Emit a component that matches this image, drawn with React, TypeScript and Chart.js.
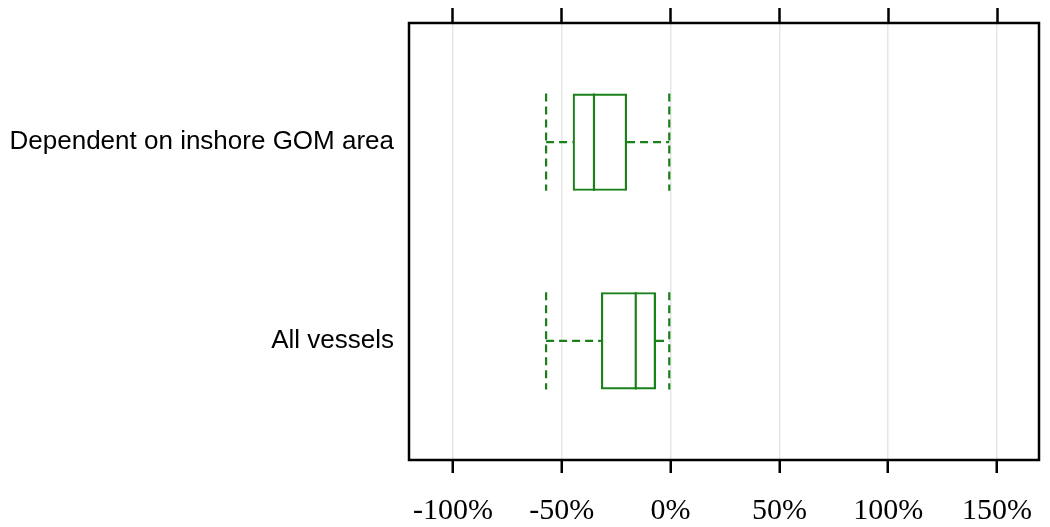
import { useEffect, useRef } from "react";
import { Chart, registerables } from "chart.js";

Chart.register(...registerables);

// ---- data ----
const CATEGORIES = ["All vessels", "Dependent on inshore GOM area"];
const CAT_POS = [1, 2];
const WHISKER_LOW = [-57.2, -57.2];
const Q1 = [-32.0, -45.0];
const MEDIAN = [-16.0, -35.2];
const Q3 = [-6.7, -20.0];
const WHISKER_HIGH = [-0.6, -0.6];
const X_TICKS = [-100, -50, 0, 50, 100, 150];
const X_MIN = -120.2;
const X_MAX = 169.3;

const GREEN = "#1a801a";

export default function App() {
  const ref = useRef<HTMLCanvasElement>(null);

  useEffect(() => {
    document.body.style.margin = "0";
    const canvas = ref.current;
    if (!canvas) return;

    const boxPlugin = {
      id: "boxExtras",
      afterDatasetsDraw(chart: any) {
        const ctx = chart.ctx;
        const xs = chart.scales.x;
        const meta = chart.getDatasetMeta(0);
        ctx.save();
        ctx.strokeStyle = GREEN;
        ctx.lineWidth = 2.2;
        meta.data.forEach((bar: any, i: number) => {
          const { y, height } = bar.getProps(["y", "height"], true);
          const top = y - height / 2;
          const bot = y + height / 2;
          const pLow = xs.getPixelForValue(WHISKER_LOW[i]);
          const pQ1 = xs.getPixelForValue(Q1[i]);
          const pMed = xs.getPixelForValue(MEDIAN[i]);
          const pQ3 = xs.getPixelForValue(Q3[i]);
          const pHigh = xs.getPixelForValue(WHISKER_HIGH[i]);
          // median
          ctx.setLineDash([]);
          ctx.beginPath();
          ctx.moveTo(pMed, top);
          ctx.lineTo(pMed, bot);
          ctx.stroke();
          // whiskers
          ctx.setLineDash([8, 5]);
          ctx.beginPath();
          ctx.moveTo(pLow, y);
          ctx.lineTo(pQ1, y);
          ctx.moveTo(pQ3, y);
          ctx.lineTo(pHigh, y);
          ctx.stroke();
          ctx.beginPath();
          ctx.moveTo(pLow, top);
          ctx.lineTo(pLow, bot);
          ctx.moveTo(pHigh, top);
          ctx.lineTo(pHigh, bot);
          ctx.stroke();
        });
        ctx.restore();
      },
      afterDraw(chart: any) {
        const { left, top, right, bottom } = chart.chartArea;
        const ctx = chart.ctx;
        ctx.save();
        ctx.strokeStyle = "#000";
        ctx.lineWidth = 2.5;
        ctx.strokeRect(left, top, right - left, bottom - top);
        ctx.restore();
      },
    };

    const noPad = (s: any) => {
      s.paddingTop = 0;
      s.paddingBottom = 0;
      s.paddingLeft = 0;
      s.paddingRight = 0;
    };

    const chart = new Chart(canvas, {
      type: "bar",
      data: {
        datasets: [
          {
            data: CATEGORIES.map((_, i) => ({ x: [Q1[i], Q3[i]], y: CAT_POS[i] })) as any,
            backgroundColor: "rgba(0,0,0,0)",
            borderColor: GREEN,
            borderWidth: 2.2,
            borderSkipped: false,
            barPercentage: 0.7,
            categoryPercentage: 0.7,
          },
        ],
      },
      options: {
        indexAxis: "y",
        animation: false,
        responsive: false,
        layout: { padding: { left: 0, right: 11, top: 0, bottom: 0 } },
        plugins: { legend: { display: false }, tooltip: { enabled: false } },
        scales: {
          x: {
            type: "linear",
            position: "bottom",
            min: X_MIN,
            max: X_MAX,
            afterBuildTicks: (s: any) => {
              s.ticks = X_TICKS.map((v) => ({ value: v }));
            },
            afterFit: (s: any) => {
              s.height = 67;
              noPad(s);
            },
            border: { display: false },
            grid: {
              color: "#e6e6e6",
              lineWidth: 1.5,
              drawTicks: true,
              tickLength: 13,
              tickColor: "#000",
              tickWidth: 2.5,
            },
            ticks: {
              callback: (v: any) => `${v}%`,
              font: { family: "'Liberation Serif', 'Times New Roman', serif", size: 30 },
              color: "#000",
              padding: 20,
              maxRotation: 0,
              autoSkip: false,
            },
          },
          x2: {
            type: "linear",
            position: "top",
            min: X_MIN,
            max: X_MAX,
            afterBuildTicks: (s: any) => {
              s.ticks = X_TICKS.map((v) => ({ value: v }));
            },
            afterFit: (s: any) => {
              s.height = 23;
              noPad(s);
            },
            border: { display: false },
            grid: {
              drawOnChartArea: false,
              drawTicks: true,
              tickLength: 15,
              tickColor: "#000",
              tickWidth: 2.5,
            },
            ticks: { display: false },
          },
          y: {
            type: "linear",
            position: "left",
            offset: false,
            min: 0.4,
            max: 2.6,
            afterBuildTicks: (s: any) => {
              s.ticks = CAT_POS.map((v) => ({ value: v }));
            },
            afterFit: (s: any) => {
              s.width = 409;
              noPad(s);
            },
            border: { display: false },
            grid: { display: false, drawTicks: false, offset: false },
            ticks: {
              callback: (v: any) => CATEGORIES[CAT_POS.indexOf(Number(v))],
              font: { family: "'Liberation Sans', Arial, sans-serif", size: 26 },
              color: "#000",
              padding: 15,
              autoSkip: false,
            },
          },
        },
      } as any,
      plugins: [boxPlugin],
    });

    return () => chart.destroy();
  }, []);

  return (
    <div style={{ width: 1050, height: 527, position: "relative", background: "#fff" }}>
      <canvas ref={ref} width={1050} height={527} />
    </div>
  );
}
